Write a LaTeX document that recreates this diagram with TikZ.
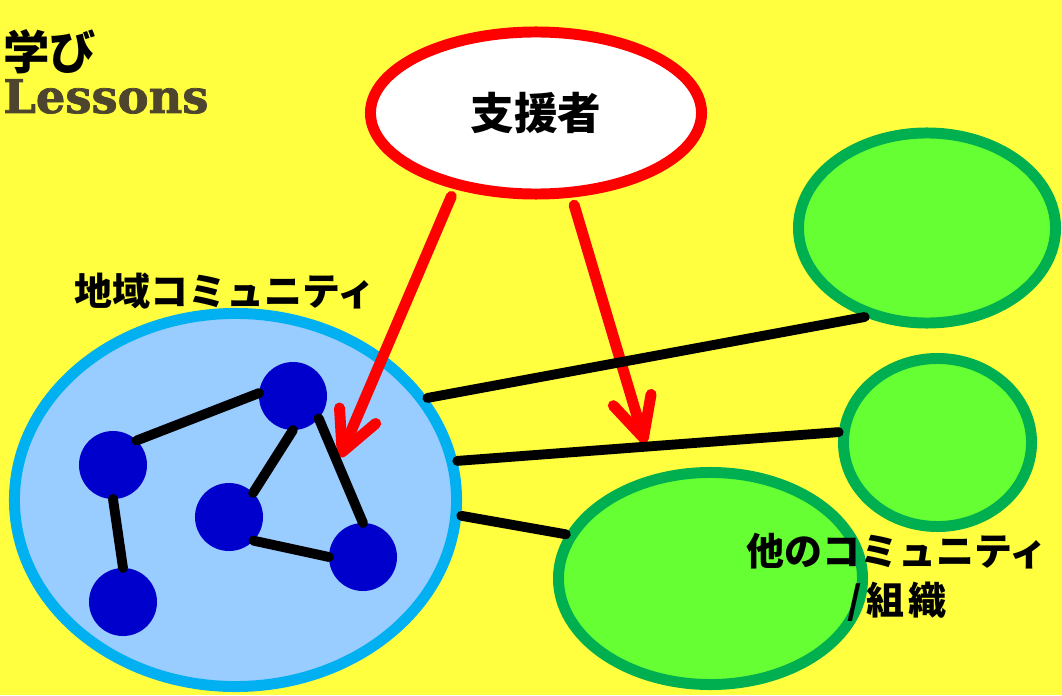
\documentclass[tikz,border=0pt]{standalone}
\usepackage{fontspec}
\usepackage{tikz}
\usetikzlibrary{arrows.meta, shapes.geometric}
\newfontfamily\jpfont{Noto Sans CJK JP}
\newfontfamily\slabfont{DejaVu Serif}[BoldFont={DejaVu Serif Bold}, BoldFeatures={FakeBold=1.6}]
\definecolor{bgyellow}{RGB}{255,255,64}
\definecolor{blueline}{RGB}{0,176,240}
\definecolor{bluefill}{RGB}{153,204,255}
\definecolor{grnline}{RGB}{0,176,80}
\definecolor{grnfill}{RGB}{102,255,51}
\definecolor{dotblue}{RGB}{0,0,204}
\definecolor{olive}{RGB}{77,69,45}

\begin{document}
\begin{tikzpicture}[x=0.025cm, y=-0.025cm,
    blob/.style={ellipse, inner sep=0pt, line width=7.8pt},
    green blob/.style={blob, draw=grnline, fill=grnfill},
    dot/.style={circle, fill=dotblue, minimum size=1.7cm, inner sep=0pt, outer sep=0pt},
    link/.style={line width=7pt, line cap=round},
    aid/.style={red, line width=7.8pt, line cap=round,
        -{Straight Barb[length=28pt, width=28pt, line cap=round, line join=round]}},
    jp/.style={font=\jpfont\bfseries\fontsize{#1}{35}\selectfont, inner sep=0pt}]
    \fill[bgyellow] (0,0) rectangle (1062,695);
    \useasboundingbox (0,0) rectangle (1062,695);

    \node[blob, draw=red, fill=white, minimum width=8.275cm, minimum height=4.05cm, jp=31] (s) at (536,113) {支援者};
    \node[blob, draw=blueline, fill=bluefill, minimum width=11.05cm, minimum height=9.325cm] (c) at (235.5,500) {};
    \node[green blob, minimum width=6.425cm, minimum height=4.75cm] (o1) at (927,228) {};
    \node[green blob, minimum width=4.7cm, minimum height=4.2cm] (o2) at (937.5,442.5) {};
    \node[green blob, minimum width=7.6cm, minimum height=5.3cm] (o3) at (710.5,578.5) {};

    \node[jp=33] (title) at (50,52) {学び};
    \node[anchor=base west, inner sep=0pt, text=olive, font=\slabfont\bfseries\fontsize{33}{40}\selectfont] (sub) at (3,113) {Lessons};
    \node[jp=27] (ct) at (225,291) {地域コミュニティ};
    \node[jp=27, align=center] (ot) at (897,577) {他のコミュニティ\\/\kern3pt組\kern3pt織};

    \coordinate (p) at (340,457);
    \coordinate (q) at (645,443);
    \draw[aid, shorten <=0.2cm] (s.223) -- (p);
    \draw[aid, shorten <=0.2cm] (s.293) -- (q);

    \draw[link] (c.28) -- (o1.235);
    \draw[link] (c.10) -- (o2.174);
    \draw[link] (c.-4) -- (o3.163);

    \node[dot] (n1) at (293,396) {};
    \node[dot] (n2) at (113,465) {};
    \node[dot] (n3) at (229,517) {};
    \node[dot] (n4) at (363,557) {};
    \node[dot] (n5) at (123,602) {};
    \draw[link] (n2.46) -- (n1.175);
    \draw[link] (n2.270) -- (n5.90);
    \draw[link] (n1.270) -- (n3.45);
    \draw[link] (n1.-41) -- (n4.90);
    \draw[link] (n3.-44) -- (n4.180);
\end{tikzpicture}
\end{document}
